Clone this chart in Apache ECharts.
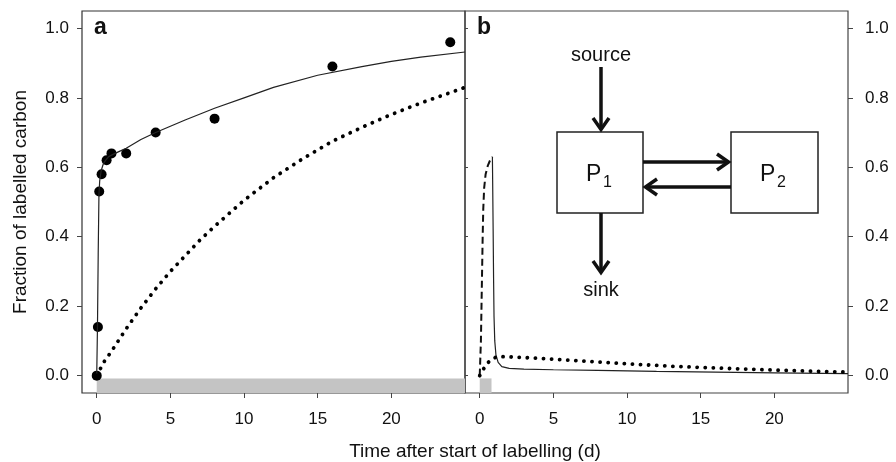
<!DOCTYPE html>
<html>
<head>
<meta charset="utf-8" />
<title>Labelled carbon</title>
<script src="https://cdn.jsdelivr.net/npm/echarts@6.0.0/dist/echarts.min.js"></script>
</head>
<body style="margin:0;background:#fff">
<div id="chart" style="width:896px;height:462px;"></div>
<script>
// ---- data ----
// panel a: observed points
var obsTime = [0, 0.08, 0.17, 0.33, 0.67, 1, 2, 4, 8, 16, 24];
var obsFrac = [0, 0.14, 0.53, 0.58, 0.62, 0.64, 0.64, 0.70, 0.74, 0.89, 0.96];
// panel a: fitted total (solid) and slow pool (dotted)
var fitTimeA = [0, 0.05, 0.1, 0.15, 0.2, 0.3, 0.45, 0.6, 0.8, 1, 1.5, 2, 3, 4, 5, 6, 8, 10, 12, 15, 18, 20, 22, 25];
var fitFracA = [0, 0.14, 0.35, 0.52, 0.56, 0.59, 0.61, 0.62, 0.63, 0.635, 0.645, 0.655, 0.68, 0.70, 0.718, 0.736, 0.77, 0.80, 0.83, 0.865, 0.89, 0.905, 0.917, 0.932];
var slowTimeA = [0, 0.5, 1, 2, 3, 4, 5, 6, 7, 8, 10, 12, 14, 16, 18, 20, 22, 25];
var slowFracA = [0, 0.04, 0.07, 0.135, 0.195, 0.25, 0.30, 0.345, 0.39, 0.43, 0.505, 0.57, 0.625, 0.675, 0.715, 0.752, 0.785, 0.83];
// panel b: pulse label, rise during labelling (dashed), chase (solid), slow pool (dotted)
var riseTimeB = [0, 0.08, 0.12, 0.16, 0.2, 0.24, 0.3, 0.4, 0.55, 0.7, 0.86];
var riseFracB = [0, 0.1, 0.2, 0.3, 0.4, 0.48, 0.54, 0.58, 0.605, 0.62, 0.63];
var chaseTimeB = [0.86, 0.88, 0.91, 0.94, 0.97, 1.02, 1.1, 1.25, 1.5, 2, 3, 5, 8, 12, 16, 20, 25];
var chaseFracB = [0.63, 0.55, 0.42, 0.28, 0.17, 0.1, 0.06, 0.038, 0.026, 0.021, 0.019, 0.017, 0.015, 0.012, 0.01, 0.008, 0.006];
var slowTimeB = [0, 0.27, 0.5, 0.8, 1.2, 2, 4, 7, 10, 13, 16, 20, 25];
var slowFracB = [0, 0.02, 0.035, 0.047, 0.055, 0.054, 0.05, 0.042, 0.034, 0.027, 0.022, 0.016, 0.01];
// labelling periods (grey bars)
var labelPeriodA = [0, 25];
var labelPeriodB = [0, 0.8];
var xTicks = [0, 5, 10, 15, 20];
var yTicks = [0, 0.2, 0.4, 0.6, 0.8, 1.0];

function pairs(xs, ys) {
  return xs.map(function (x, i) { return [x, ys[i]]; });
}

var FONT = 'Liberation Sans, Arial, sans-serif';
var INK = '#111';

function xAxisFor(gi) {
  return {
    gridIndex: gi, type: 'value', min: -1, max: 25,
    axisLine: { show: false, onZero: false },
    splitLine: { show: false },
    axisTick: { show: true, length: 5, inside: false, customValues: xTicks, lineStyle: { color: '#444' } },
    axisLabel: { customValues: xTicks, fontSize: 17, color: INK, fontFamily: FONT, margin: 18 }
  };
}

function yAxisFor(gi, pos, showLabel) {
  return {
    gridIndex: gi, type: 'value', min: -0.05, max: 1.05, position: pos,
    axisLine: { show: false, onZero: false },
    splitLine: { show: false },
    axisTick: { show: true, length: 5, customValues: yTicks, lineStyle: { color: '#444' } },
    axisLabel: {
      show: showLabel, customValues: yTicks, fontSize: 17, color: INK, fontFamily: FONT,
      margin: pos === 'left' ? 13 : 17,
      formatter: function (v) { return v.toFixed(1); }
    }
  };
}

// diagram helper (annotation only, in pixels)
function arrow(x1, y1, x2, y2) {
  var a = Math.atan2(y2 - y1, x2 - x1), L = 13, W = 8;
  var c = Math.cos(a), s = Math.sin(a);
  var st = { stroke: '#111', lineWidth: 3.5, fill: null, lineJoin: 'miter' };
  return [
    { type: 'line', shape: { x1: x1, y1: y1, x2: x2 - c * 3, y2: y2 - s * 3 }, style: st },
    { type: 'polyline', shape: { points: [[x2 - L * c + W * s, y2 - L * s - W * c], [x2 - c * 1.5, y2 - s * 1.5], [x2 - L * c - W * s, y2 - L * s + W * c]] }, style: st }
  ];
}

var graphics = [
  { type: 'text', left: 94, top: 16, style: { text: 'a', font: 'bold 23px ' + FONT, fill: INK } },
  { type: 'text', left: 477, top: 16, style: { text: 'b', font: 'bold 23px ' + FONT, fill: INK } },
  { type: 'text', x: 475, y: 452, style: { text: 'Time after start of labelling (d)', font: '19px ' + FONT, fill: INK, align: 'center', verticalAlign: 'middle' } },
  { type: 'rect', shape: { x: 557, y: 132, width: 86, height: 81 }, style: { fill: '#fff', stroke: '#222', lineWidth: 1.5 } },
  { type: 'rect', shape: { x: 731, y: 132, width: 87, height: 81 }, style: { fill: '#fff', stroke: '#222', lineWidth: 1.5 } },
  { type: 'text', x: 601, y: 55, style: { text: 'source', font: '20px ' + FONT, fill: INK, align: 'center', verticalAlign: 'middle' } },
  { type: 'text', x: 601, y: 290, style: { text: 'sink', font: '20px ' + FONT, fill: INK, align: 'center', verticalAlign: 'middle' } },
  { type: 'text', x: 586, y: 175, style: { text: 'P', font: '23px ' + FONT, fill: INK, align: 'left', verticalAlign: 'middle' } },
  { type: 'text', x: 603, y: 183, style: { text: '1', font: '16px ' + FONT, fill: INK, align: 'left', verticalAlign: 'middle' } },
  { type: 'text', x: 760, y: 175, style: { text: 'P', font: '23px ' + FONT, fill: INK, align: 'left', verticalAlign: 'middle' } },
  { type: 'text', x: 777, y: 183, style: { text: '2', font: '16px ' + FONT, fill: INK, align: 'left', verticalAlign: 'middle' } }
]
  .concat(arrow(601, 67, 601, 131))
  .concat(arrow(601, 213, 601, 274))
  .concat(arrow(643, 162, 730, 162))
  .concat(arrow(731, 187, 644, 187));

var greyBar = { color: '#c4c4c4' };

var chart = echarts.init(document.getElementById('chart'), null, { renderer: 'canvas' });
var option = {
  backgroundColor: '#fff',
  animation: false,
  textStyle: { fontFamily: FONT },
  grid: [
    { left: 82, top: 11, width: 383, height: 382, show: true, borderColor: '#333', borderWidth: 1.2, backgroundColor: 'transparent' },
    { left: 465, top: 11, width: 383, height: 382, show: true, borderColor: '#444', borderWidth: 1.2, backgroundColor: 'transparent' }
  ],
  xAxis: [xAxisFor(0), xAxisFor(1)],
  yAxis: [
    Object.assign(yAxisFor(0, 'left', true), {
      name: 'Fraction of labelled carbon', nameLocation: 'middle', nameGap: 52,
      nameTextStyle: { fontSize: 19, color: INK, fontFamily: FONT }
    }),
    yAxisFor(1, 'right', true),
    Object.assign(yAxisFor(1, 'left', false), { axisTick: { show: true, length: 3, inside: true, customValues: yTicks, lineStyle: { color: '#444' } } })
  ],
  series: [
    {
      name: 'fit a', type: 'line', xAxisIndex: 0, yAxisIndex: 0,
      data: pairs(fitTimeA, fitFracA), showSymbol: false, smooth: false,
      lineStyle: { color: '#222', width: 1.2 },
      markArea: { silent: true, itemStyle: greyBar, data: [[{ xAxis: labelPeriodA[0], yAxis: -0.05 }, { xAxis: labelPeriodA[1], yAxis: -0.008 }]] }
    },
    {
      name: 'slow a', type: 'line', xAxisIndex: 0, yAxisIndex: 0,
      data: pairs(slowTimeA, slowFracA), showSymbol: false,
      lineStyle: { color: '#000', width: 3.8, type: [0.1, 8], cap: 'round' }
    },
    {
      name: 'observed', type: 'scatter', xAxisIndex: 0, yAxisIndex: 0,
      data: pairs(obsTime, obsFrac), symbolSize: 10, itemStyle: { color: '#000', opacity: 1 }
    },
    {
      name: 'rise b', type: 'line', xAxisIndex: 1, yAxisIndex: 2,
      data: pairs(riseTimeB, riseFracB), showSymbol: false,
      lineStyle: { color: '#111', width: 2, type: [7, 4] },
      markArea: { silent: true, itemStyle: greyBar, data: [[{ xAxis: labelPeriodB[0], yAxis: -0.05 }, { xAxis: labelPeriodB[1], yAxis: -0.008 }]] }
    },
    {
      name: 'chase b', type: 'line', xAxisIndex: 1, yAxisIndex: 2,
      data: pairs(chaseTimeB, chaseFracB), showSymbol: false,
      lineStyle: { color: '#222', width: 1.2 }
    },
    {
      name: 'slow b', type: 'line', xAxisIndex: 1, yAxisIndex: 2,
      data: pairs(slowTimeB, slowFracB), showSymbol: false,
      lineStyle: { color: '#000', width: 3.8, type: [0.1, 8], cap: 'round' }
    }
  ],
  graphic: graphics
};
chart.setOption(option);
</script>
</body>
</html>
